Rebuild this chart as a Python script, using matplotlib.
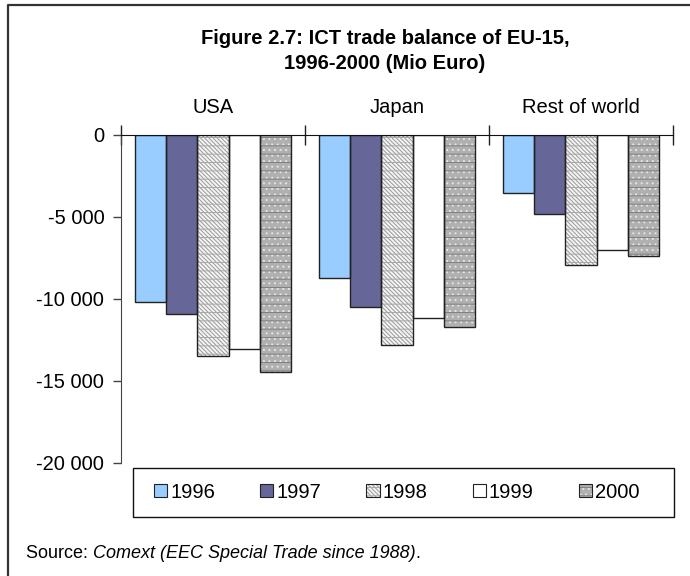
import numpy as np
import matplotlib
matplotlib.use("Agg")
import matplotlib.pyplot as plt
from matplotlib.patches import Patch, Rectangle
from matplotlib.legend_handler import HandlerTuple
from matplotlib.lines import Line2D

plt.rcParams['font.family'] = ['Liberation Sans', 'DejaVu Sans']
plt.rcParams['hatch.linewidth'] = 0.7

regions = ['USA', 'Japan', 'Rest of world']
years = ['1996', '1997', '1998', '1999', '2000']
v1996 = [-10160, -8720, -3530]
v1997 = [-10890, -10500, -4790]
v1998 = [-13460, -12830, -7900]
v1999 = [-13040, -11170, -7040]
v2000 = [-14440, -11700, -7400]
yticks = [0, -5000, -10000, -15000, -20000]

series = [v1996, v1997, v1998, v1999, v2000]
# face colour, then (hatch, hatch colour) layers drawn on top
styles = [
    ('#99ccff', []),
    ('#666699', []),
    ('#f4f4f4', [('\\\\\\\\\\\\\\\\', '#999999'), ('--', '#a8a8a8')]),
    ('#ffffff', []),
    ('#b0b0b0', [('...', '#e6e6e6'), ('--', '#808080')]),
]

fig = plt.figure(figsize=(6.9, 5.76), dpi=100)
ax = fig.add_axes([121 / 690, 1 - 463 / 576, 552 / 690, 328 / 576])

width = 0.1685
x = np.arange(len(regions))
start = 0.5 - 2.5 * width

handles = []
for i, (vals, (face, layers)) in enumerate(zip(series, styles)):
    pos = x + start + (i + 0.5) * width
    ax.bar(pos, vals, width, color=face, edgecolor='none', zorder=2)
    parts = [Patch(facecolor=face, edgecolor='none')]
    for h, hc in layers:
        ax.bar(pos, vals, width, fill=False, hatch=h, edgecolor=hc, lw=0, zorder=3)
        parts.append(Patch(fill=False, hatch=h, edgecolor=hc, lw=0))
    ax.bar(pos, vals, width, fill=False, edgecolor='#222222', lw=1.0, zorder=4)
    parts.append(Patch(fill=False, edgecolor='#222222', lw=0.8))
    handles.append(tuple(parts))

ax.set_xlim(0, 3)
ax.set_ylim(-20000, 0)
ax.set_yticks(yticks)
ax.set_yticklabels([f"{v:,.0f}".replace(',', ' ') for v in yticks], fontsize=14.5)
ax.tick_params(axis='y', direction='out', length=6, width=1, color='#444444', pad=6)

ax.xaxis.set_ticks_position('top')
ax.set_xticks(x + 0.5)
ax.set_xticklabels(regions, fontsize=14.5)
ax.set_xticks([0, 1, 2, 3], minor=True)
ax.tick_params(axis='x', which='major', length=0, pad=13)
ax.tick_params(axis='x', which='minor', direction='inout', length=14, width=1, color='#222222')

for s in ['bottom', 'right']:
    ax.spines[s].set_visible(False)
ax.spines['left'].set_color('#444444')
ax.spines['top'].set_color('#111111')
ax.spines['top'].set_zorder(5)

# legend box drawn separately, entries placed inside it
fig.add_artist(Rectangle((133 / 690, 1 - 517 / 576), 541 / 690, 49 / 576,
                         transform=fig.transFigure, fill=False,
                         edgecolor='#111111', lw=1.0))
fig.legend(handles, years, loc='center left', ncol=5,
           bbox_to_anchor=(154 / 690, 1 - 492 / 576), frameon=False,
           fontsize=14.5, borderpad=0, borderaxespad=0,
           handlelength=0.65, handleheight=0.65, handletextpad=0.15,
           columnspacing=2.25,
           handler_map={tuple: HandlerTuple(ndivide=1, pad=0)})

fig.text(385 / 690, 1 - 51 / 576, 'Figure 2.7: ICT trade balance of EU-15,\n1996-2000 (Mio Euro)',
         ha='center', va='center', fontsize=14.5, fontweight='bold', linespacing=1.4)

# outer frame (runs off right and bottom edges)
fig.add_artist(Line2D([8 / 690, 8 / 690, 1], [0, 1 - 5 / 576, 1 - 5 / 576],
                      transform=fig.transFigure, color='#333333', lw=1.6))

src = fig.text(26 / 690, 1 - 553 / 576, 'Source: ', ha='left', va='center', fontsize=13)
fig.canvas.draw()
bb = src.get_window_extent().transformed(fig.transFigure.inverted())
src2 = fig.text(bb.x1, 1 - 553 / 576, 'Comext (EEC Special Trade since 1988)', ha='left',
                va='center', fontsize=13, style='italic')
fig.canvas.draw()
e = src2.get_window_extent().transformed(fig.transFigure.inverted())
fig.text(e.x1, 1 - 553 / 576, '.', ha='left', va='center', fontsize=13)

fig.savefig('out.png', dpi=100)
